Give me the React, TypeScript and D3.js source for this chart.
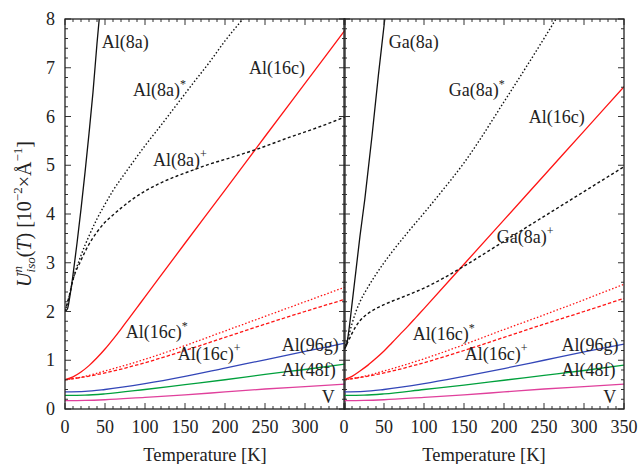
import React from "react";
import * as d3 from "d3";

// ---------- data ----------
const xTickLabelsLeft = [0, 50, 100, 150, 200, 250, 300];
const xTickLabelsRight = [0, 50, 100, 150, 200, 250, 300, 350];
const yTickLabels = [0, 1, 2, 3, 4, 5, 6, 7, 8];

// common temperature grid for slowly varying curves
const tGrid = [0, 25, 50, 100, 150, 200, 250, 300, 350];
const tRed = [0, 10, 20, 30, 40, 50, 60, 70, 80, 90, 100, 150, 200, 250, 300, 350];

// Left panel (Al guest)
const al8aT = [0, 3, 6, 10, 15, 20, 25, 30, 35, 40, 45];
const al8aU = [2.0, 2.05, 2.3, 2.75, 3.4, 4.1, 4.85, 5.65, 6.5, 7.5, 8.4];
const al8aStarT = [0, 5, 10, 20, 30, 40, 50, 60, 70, 80, 100, 120, 140, 160, 180, 200, 225];
const al8aStarU = [2.0, 2.3, 2.65, 3.15, 3.55, 3.9, 4.2, 4.48, 4.72, 4.95, 5.4, 5.82, 6.25, 6.68, 7.1, 7.55, 8.05];
const al8aPlusT = [0, 5, 10, 20, 30, 40, 50, 60, 70, 80, 100, 120, 140, 160, 180, 200, 240, 280, 320, 350];
const al8aPlusU = [2.0, 2.3, 2.65, 3.05, 3.38, 3.63, 3.83, 3.98, 4.12, 4.25, 4.47, 4.64, 4.78, 4.9, 5.02, 5.12, 5.33, 5.57, 5.8, 5.99];
const al16cL = [0.6, 0.66, 0.76, 0.89, 1.05, 1.23, 1.43, 1.64, 1.86, 2.08, 2.3, 3.4, 4.49, 5.59, 6.68, 7.77];
const al16cStarL = [0.6, 0.67, 0.78, 1.02, 1.3, 1.6, 1.9, 2.2, 2.5];
const al16cPlusL = [0.6, 0.66, 0.74, 0.95, 1.2, 1.47, 1.74, 2.0, 2.25];
const al96gL = [0.35, 0.36, 0.4, 0.52, 0.67, 0.84, 1.01, 1.18, 1.35];
const al48fL = [0.28, 0.285, 0.31, 0.4, 0.5, 0.6, 0.71, 0.81, 0.92];
const vL = [0.17, 0.175, 0.19, 0.24, 0.29, 0.35, 0.41, 0.46, 0.51];

// Right panel (Ga guest)
const ga8aT = [0, 3, 6, 10, 15, 20, 26, 35, 43, 51, 55];
const ga8aU = [1.23, 1.3, 1.6, 2.15, 2.85, 3.55, 4.3, 5.6, 6.85, 8.0, 8.6];
const ga8aStarT = [0, 5, 10, 15, 20, 30, 40, 50, 60, 80, 100, 120, 150, 200, 250, 265, 280];
const ga8aStarU = [1.23, 1.45, 1.75, 2.0, 2.2, 2.5, 2.76, 3.0, 3.22, 3.63, 4.02, 4.42, 5.05, 6.3, 7.6, 8.0, 8.4];
const ga8aPlusT = [0, 5, 10, 15, 20, 30, 40, 50, 60, 80, 100, 125, 150, 200, 250, 300, 350];
const ga8aPlusU = [1.23, 1.38, 1.55, 1.7, 1.81, 1.96, 2.06, 2.14, 2.21, 2.34, 2.48, 2.69, 2.93, 3.44, 3.95, 4.46, 4.97];
const al16cR = [0.6, 0.67, 0.78, 0.9, 1.04, 1.19, 1.36, 1.53, 1.7, 1.88, 2.06, 2.97, 3.88, 4.79, 5.7, 6.61];
const al16cStarR = [0.6, 0.67, 0.78, 1.03, 1.32, 1.63, 1.93, 2.24, 2.56];
const al16cPlusR = [0.6, 0.66, 0.74, 0.95, 1.2, 1.47, 1.74, 2.0, 2.27];
const al96gR = [0.35, 0.36, 0.4, 0.52, 0.67, 0.83, 1.0, 1.17, 1.33];
const al48fR = [0.28, 0.285, 0.31, 0.4, 0.49, 0.59, 0.69, 0.79, 0.9];
const vR = [0.17, 0.175, 0.19, 0.24, 0.29, 0.35, 0.41, 0.46, 0.51];

// ---------- styles ----------
const BLACK = "#111111";
const RED = "#ff1414";
const BLUE = "#3346b8";
const GREEN = "#00a03c";
const MAGENTA = "#e0409c";
const FONT = "'Liberation Serif', 'DejaVu Serif', serif";
const DOT = "1.5,2.1";
const DASH = "3,2.4";

const W = 638;
const H = 464;
const yTop = 19;
const yBot = 409;
const y = d3.scaleLinear().domain([0, 8]).range([yBot, yTop]);
const xL = d3.scaleLinear().domain([0, 350]).range([65, 345]);
const xR = d3.scaleLinear().domain([0, 350]).range([344, 624]);

type Series = { t: number[]; u: number[]; color: string; dash?: string; width?: number };

const leftSeries: Series[] = [
  { t: tGrid, u: vL, color: MAGENTA },
  { t: tGrid, u: al48fL, color: GREEN },
  { t: tGrid, u: al96gL, color: BLUE },
  { t: tGrid, u: al16cStarL, color: RED, dash: "1.5,2" },
  { t: tGrid, u: al16cPlusL, color: RED, dash: "3.5,2" },
  { t: tRed, u: al16cL, color: RED },
  { t: al8aPlusT, u: al8aPlusU, color: BLACK, dash: DASH, width: 1.4 },
  { t: al8aStarT, u: al8aStarU, color: BLACK, dash: DOT, width: 1.4 },
  { t: al8aT, u: al8aU, color: BLACK },
];

const rightSeries: Series[] = [
  { t: tGrid, u: vR, color: MAGENTA },
  { t: tGrid, u: al48fR, color: GREEN },
  { t: tGrid, u: al96gR, color: BLUE },
  { t: tGrid, u: al16cStarR, color: RED, dash: "1.5,2" },
  { t: tGrid, u: al16cPlusR, color: RED, dash: "3.5,2" },
  { t: tRed, u: al16cR, color: RED },
  { t: ga8aPlusT, u: ga8aPlusU, color: BLACK, dash: DASH, width: 1.4 },
  { t: ga8aStarT, u: ga8aStarU, color: BLACK, dash: DOT, width: 1.4 },
  { t: ga8aT, u: ga8aU, color: BLACK },
];

type Lbl = { text: string; sup?: string; x: number; y: number };
// label positions given in data units (T, U) for left edge / vertical centre
const leftLabels: Lbl[] = [
  { text: "Al(8a)", x: 46, y: 7.52 },
  { text: "Al(8a)", sup: "*", x: 85, y: 6.55 },
  { text: "Al(16c)", x: 230, y: 7.0 },
  { text: "Al(8a)", sup: "+", x: 110, y: 5.11 },
  { text: "Al(16c)", sup: "*", x: 76, y: 1.57 },
  { text: "Al(16c)", sup: "+", x: 141, y: 1.12 },
  { text: "Al(96g)", x: 271, y: 1.32 },
  { text: "Al(48f)", x: 271, y: 0.8 },
  { text: "V", x: 321, y: 0.25 },
];
const rightLabels: Lbl[] = [
  { text: "Ga(8a)", x: 56, y: 7.52 },
  { text: "Ga(8a)", sup: "*", x: 131, y: 6.55 },
  { text: "Al(16c)", x: 231, y: 5.99 },
  { text: "Ga(8a)", sup: "+", x: 191, y: 3.52 },
  { text: "Al(16c)", sup: "*", x: 86, y: 1.53 },
  { text: "Al(16c)", sup: "+", x: 151, y: 1.12 },
  { text: "Al(96g)", x: 272, y: 1.32 },
  { text: "Al(48f)", x: 272, y: 0.8 },
  { text: "V", x: 324, y: 0.25 },
];

function Panel({ x, series, labels, tickLabels, id, showY }: {
  x: d3.ScaleLinear<number, number>; series: Series[]; labels: Lbl[]; tickLabels: number[]; id: string; showY: boolean;
}) {
  const [x0, x1] = x.range();
  const line = (s: Series) =>
    d3.line<number>().x((_, i) => x(s.t[i])).y((d) => y(d)).curve(d3.curveMonotoneX)(s.u) || "";
  const xMinor = d3.range(0, 351, 10);
  const yMinor = d3.range(0, 8.001, 0.2);
  const isMajorX = (v: number) => v % 50 === 0;
  const isMajorY = (v: number) => Math.abs(v - Math.round(v)) < 1e-6;
  const tick = "#333";
  return (
    <g>
      <defs>
        <clipPath id={id}>
          <rect x={x0} y={yTop} width={x1 - x0} height={yBot - yTop} />
        </clipPath>
      </defs>
      <g clipPath={`url(#${id})`}>
        {series.map((s, i) => (
          <path key={i} d={line(s)} fill="none" stroke={s.color} strokeWidth={s.width ?? 1.3}
            strokeDasharray={s.dash} />
        ))}
      </g>
      {xMinor.map((v) => {
        const L = isMajorX(v) ? 6 : 3;
        return (
          <g key={"x" + v} stroke={tick} strokeWidth={1}>
            <line x1={x(v)} x2={x(v)} y1={yBot} y2={yBot - L} />
            <line x1={x(v)} x2={x(v)} y1={yTop} y2={yTop + L} />
          </g>
        );
      })}
      {yMinor.map((v) => {
        const L = isMajorY(v) ? 6 : 3;
        return (
          <g key={"y" + v.toFixed(1)} stroke={tick} strokeWidth={1}>
            <line x1={x0} x2={x0 + L} y1={y(v)} y2={y(v)} />
            <line x1={x1} x2={x1 - L} y1={y(v)} y2={y(v)} />
          </g>
        );
      })}
      <rect x={x0} y={yTop} width={x1 - x0} height={yBot - yTop} fill="none" stroke="#222" strokeWidth={1.3} />
      {tickLabels.map((v) => (
        <text key={"tl" + v} x={x(v)} y={433} textAnchor="middle" fontFamily={FONT} fontSize={18} fill="#222">
          {v}
        </text>
      ))}
      {showY &&
        yTickLabels.map((v) => (
          <text key={"yl" + v} x={55} y={y(v) + 6} textAnchor="end" fontFamily={FONT} fontSize={18} fill="#222">
            {v}
          </text>
        ))}
      <text x={(x0 + x1) / 2} y={461} textAnchor="middle" fontFamily={FONT} fontSize={18.5} fill="#222">
        Temperature [K]
      </text>
      {labels.map((l, i) => (
        <text key={"lb" + i} x={x(l.x)} y={y(l.y) + 6} fontFamily={FONT} fontSize={18} fill="#222">
          {l.text}
          {l.sup && (
            <tspan dy={-8} fontSize={12}>
              {l.sup}
            </tspan>
          )}
        </text>
      ))}
    </g>
  );
}

export default function App() {
  return (
    <svg width={W} height={H} style={{ position: "absolute", left: 0, top: 0, background: "#fff" }}>
      <rect width={W} height={H} fill="#fff" />
      <Panel x={xL} series={leftSeries} labels={leftLabels} tickLabels={xTickLabelsLeft} id="clipL" showY={true} />
      <Panel x={xR} series={rightSeries} labels={rightLabels} tickLabels={xTickLabelsRight} id="clipR" showY={false} />
      <text transform={`translate(31, ${(yTop + yBot) / 2}) rotate(-90)`} textAnchor="middle" fontFamily={FONT}
        fontSize={20} fill="#222">
        <tspan fontStyle="italic">U</tspan>
        <tspan fontStyle="italic" fontSize={13} dy={-9}>n</tspan>
        <tspan fontStyle="italic" fontSize={13} dx={-6.5} dy={13}>iso</tspan>
        <tspan dy={-4}>(</tspan>
        <tspan fontStyle="italic">T</tspan>
        <tspan>) [10</tspan>
        <tspan fontSize={13} dy={-9}>−2</tspan>
        <tspan dy={9}>×Å</tspan>
        <tspan fontSize={13} dy={-9}>−1</tspan>
        <tspan dy={9}>]</tspan>
      </text>
    </svg>
  );
}
